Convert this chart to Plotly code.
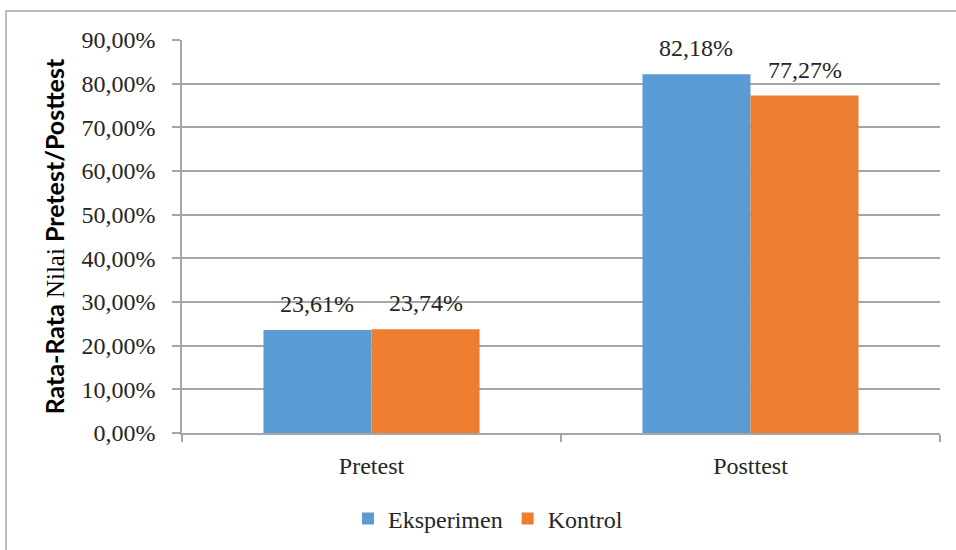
import plotly.graph_objects as go

categories = ["Pretest", "Posttest"]
series_names = ["Eksperimen", "Kontrol"]
eksperimen = [0.2361, 0.8218]
kontrol = [0.2374, 0.7727]
colors = ["#5B9BD5", "#ED7D31"]

serif = "Liberation Serif"
fs = 24
txtc = "#262626"
W, H = 956, 550
ml, mr, mt, mb = 182, 16, 40, 117
pw, ph = W - ml - mr, H - mt - mb
bargap = 0.43
half = (1 - bargap) / 4  # offset of each bar centre from category centre

fig = go.Figure()
annotations = []
for k, (name, vals, c) in enumerate(zip(series_names, [eksperimen, kontrol], colors)):
    fig.add_trace(go.Bar(
        x=categories, y=vals, name=name, marker=dict(color=c, line=dict(width=0)),
    ))
    sign = -1 if k == 0 else 1
    for i, v in enumerate(vals):
        annotations.append(dict(
            x=i + sign * half, y=v, xref="x", yref="y",
            text=f"{v*100:.2f}%".replace(".", ","), showarrow=False,
            yanchor="middle", yshift=26,
            font=dict(family=serif, size=fs, color=txtc)))

fig.update_layout(
    width=W, height=H, margin=dict(l=ml, r=mr, t=mt, b=mb, autoexpand=False),
    paper_bgcolor="white", plot_bgcolor="white",
    separators=",.", barmode="group", bargap=bargap, bargroupgap=0,
    font=dict(family=serif, size=fs, color=txtc),
    annotations=annotations,
    legend=dict(orientation="h", x=(488 - ml) / pw, xanchor="center",
                y=(mt + ph - 519) / ph, yanchor="middle",
                font=dict(family=serif, size=fs, color=txtc),
                itemwidth=30, traceorder="normal", tracegroupgap=0),
    xaxis=dict(showline=True, linecolor="#A6A6A6", linewidth=1.5, automargin=False,
               ticks="outside", tickson="boundaries", ticklen=7, tickcolor="#A6A6A6",
               tickwidth=1.5, ticklabelstandoff=10,
               tickfont=dict(family=serif, size=fs, color=txtc)),
    yaxis=dict(range=[0, 0.9], dtick=0.1, tickformat=".2%", automargin=False,
               showline=True, linecolor="#A6A6A6", linewidth=1.5,
               showgrid=True, gridcolor="#A6A6A6", gridwidth=1.5,
               ticks="outside", ticklen=8, tickcolor="#A6A6A6", tickwidth=1.5,
               ticklabelstandoff=12,
               tickfont=dict(family=serif, size=fs, color=txtc),
               title=dict(text="<b>Rata-Rata </b><span style='font-family:Liberation Serif;font-weight:normal'>Nilai</span><b> Pretest/Posttest</b>",
                          font=dict(family="Lato", size=25, color="black"), standoff=10)),
    shapes=[dict(type="rect", xref="paper", yref="paper",
                 x0=(6 - ml) / pw, x1=(W + 5 - ml) / pw,
                 y0=(mt + ph - (H + 5)) / ph, y1=(mt + ph - 11) / ph,
                 line=dict(color="#A6A6A6", width=1.5), layer="below")],
)
fig.write_html("out.html")
